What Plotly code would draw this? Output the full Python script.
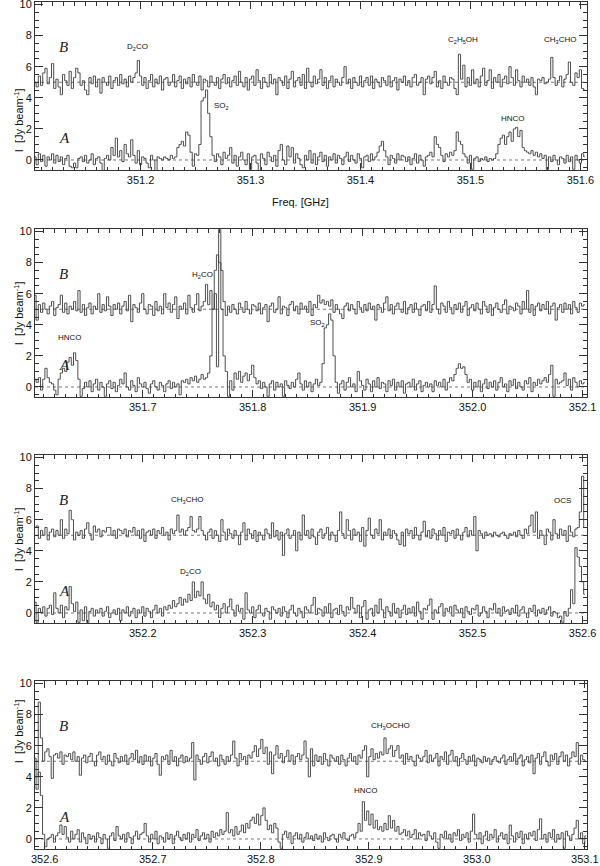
import numpy as np
import plotly.graph_objects as go

W, H = 600, 866

# ---------------- data (intensities in units of 0.1 Jy/beam) ----------------
# start frequency of each panel [GHz] and channel width [GHz]
f_start = [351.104, 351.602, 352.102, 352.591]
chan_width = 0.002
B_OFFSET = 5.0  # spectrum B is displayed shifted up by 5 Jy/beam

# Panel 1 : 351.10 - 351.61 GHz
a1 = [2, -3, 4, -1, 3, -4, 2, 0, 4, -2,
      3, -1, 2, -3, 1, 3, -4, -5, -2, -5,
      1, 2, -1, 3, -2, 0, 4, -3, 1, 2,
      -2, -7, 1, 3, 0, 8, 3, 14, 2, 6,
      -1, 10, 4, 2, 13, 3, -2, 6, -3, 2,
      1, -2, -5, 3, 0, -7, 2, 1, 0, 2,
      1, 0, 3, 1, 2, 8, 10, 12, 9, 18,
      16, 5, -4, 4, 3, 10, 38, 40, 45, 30,
      15, 3, -1, 4, 2, -3, 5, 1, 3, 8,
      -2, 3, -4, 2, 5, 0, -3, 4, -6, 2,
      3, -2, -7, 4, 1, -3, 5, 2, -1, 3,
      -4, 6, 10, 0, -3, 9, 2, 8, -2, 4,
      1, -3, -5, 3, 0, 6, -2, 4, -3, 2,
      5, -1, 3, -4, 2, 0, 4, -2, 3, 1,
      -3, 2, 5, -1, 3, 0, -2, 4, 1, -5,
      2, 3, -1, 4, 0, 2, 5, 9, 12, 6,
      2, -3, 3, 1, -2, 4, 0, 3, 2, -1,
      2, -3, 1, 4, -2, 3, 0, -4, 2, 3,
      5, 2, 15, 10, 8, 3, -1, 4, 2, 5,
      3, 6, 18, 12, 10, 4, 2, -2, 3, -6,
      1, 2, -1, 1, 0, 2, -1, 1, 0, 1,
      4, 10, 14, 16, 10, 15, 18, 12, 20, 21,
      15, 19, 8, 6, 5, 4, 6, 3, 5, 2,
      4, 1, 3, -6, 2, -1, 3, 0, -3, 2,
      1, -2, 3, -1, 2, -6, 3, 0, -2, 4,
      2]
b1 = [0, -3, 4, -2, 6, 9, -1, 3, 12, -4,
      2, -3, -8, 5, 1, -2, 7, -4, 3, 9,
      6, -2, 1, -5, -8, 3, -1, 4, -3, 2,
      -7, 3, 0, -2, 4, -4, 1, 3, -2, 5,
      -1, 2, -3, 4, 0, 3, 6, 14, 4, -2,
      3, -4, 1, 5, -3, 2, -1, 4, -5, 2,
      3, -2, 0, 5, -3, 1, 4, -4, 2, -1,
      3, -3, 5, 0, -2, 4, -5, 2, 1, -3,
      4, 0, -2, 3, -4, 2, 5, -1, 3, -3,
      1, 4, -2, 7, 0, -3, 3, -5, 2, 4,
      -2, 8, 1, -4, 3, 0, -3, 5, -1, 2,
      -8, 3, 1, -2, 4, -4, 2, 7, -3, 1,
      3, -2, 5, -4, 9, 0, -3, 4, -1, 2,
      8, -2, 3, -4, 1, 4, -3, 2, 0, -2,
      3, 10, -1, 2, -4, 3, 0, -2, 4, -3,
      1, 3, -2, 4, -4, 2, 0, -3, 3, 1,
      -2, 4, -3, 1, 3, -5, 2, 0, 4, -2,
      1, -3, 3, 5, -2, 0, 3, -8, 2, 4,
      -1, 3, 7, -3, 1, -4, 4, 0, -2, 3,
      2, -4, -8, 18, 2, 11, -3, 3, -2, 8,
      -1, 2, -3, 4, 9, -2, 1, 8, -4, 3,
      0, 5, -3, 2, 4, -1, 10, 3, -2, 8,
      1, -3, 4, 0, 2, -2, 3, -3, -8, 2,
      1, 3, -1, 0, 2, 16, 3, -2, 1, 4,
      -3, 2, 5, 13, 0, -2, 6, 3, 8, -4,
      -5]

# Panel 2 : 351.60 - 352.10 GHz
a2 = [5, 3, 6, -2, 5, 12, 6, 3, 2, -2,
      -5, 5, 9, 12, 10, 16, 19, 14, 22, 17,
      5, -6, -1, 3, 0, 4, -3, 2, 5, -2,
      3, 0, -6, 2, 4, -1, 3, -3, 1, 5,
      2, 9, 0, -2, 4, 1, -3, 6, 2, 0,
      3, -1, -4, 2, 4, 0, -2, 3, 1, -3,
      2, 4, -1, 3, 0, 2, -5, 4, 3, 5,
      2, 6, 4, 7, 3, 5, 8, 5, 6, 9,
      20, 50, 75, 85, 80, 50, 20, 10, -6, 4,
      -2, 9, 5, 10, 3, 7, 9, 4, 8, 14,
      6, 2, 4, -1, 3, 0, -6, 2, 4, -2,
      3, 0, 2, -6, 4, 1, -1, 3, 0, 5,
      9, 2, -2, 4, 0, 3, -3, 2, 5, 1,
      3, 15, 38, 40, 47, 43, 20, 3, -4, 2,
      4, -2, 3, 6, 0, 2, -3, 10, 4, 1,
      -2, 5, 2, -3, 4, 0, 6, -1, 3, 2,
      -3, 4, 1, 5, -2, 3, 0, 4, -4, 2,
      3, 0, 5, -2, 2, 4, -3, 1, 3, 0,
      2, -3, 4, 1, 3, 0, 5, -2, 3, 6,
      4, 8, 12, 15, 12, 13, 8, 3, 5, -2,
      3, 0, 4, -3, 2, 5, -1, 3, 0, 4,
      -2, 3, 6, 0, 2, -3, 4, 1, 5, -1,
      3, 0, -2, 4, 2, 6, -3, 3, 1, 5,
      2, 4, 6, 3, 8, 14, -6, 5, 2, 3,
      4, 9, 1, 5, -2, 6, 3, 0, 4, 2,
      3]
b2 = [9, -7, 3, -2, 4, 0, -3, 2, 5, -4,
      1, 3, 9, -2, 4, -3, 2, 0, 5, -1,
      12, -2, 3, -4, 1, 4, -3, 2, 0, 10,
      -2, 3, -1, 8, 2, -4, 3, 0, 4, -3,
      2, 5, -1, 9, -8, 3, 1, -2, 4, 10,
      0, -3, 3, 2, -4, 5, -1, 2, -3, 10,
      1, 4, -2, 3, 8, -6, 2, 0, 4, -3,
      9, 1, -2, 3, 10, -1, 2, 5, 16, 3,
      12, 0, 10, -37, 52, 25, 5, -4, 2, -2,
      3, 0, -3, 4, 1, -2, 5, 0, -3, 3,
      2, -1, 4, -3, 1, 3, -8, 2, 4, -2,
      0, 8, -3, 2, 1, -4, 3, 5, -1, 2,
      -3, 4, 0, 2, -2, 5, -4, 3, 1, 9,
      4, 6, 3, 5, 2, 6, -2, 3, 0, -3,
      -6, 2, 4, -1, 3, 0, -3, 5, 1, -2,
      3, -1, 4, 0, 2, -7, 3, 1, -2, 4,
      8, -1, 3, -3, 2, 4, 0, -2, 5, -3,
      1, 3, -2, 4, 0, -4, 2, 3, -1, 5,
      -2, 3, 15, 0, -3, 4, 2, -2, 5, 1,
      -3, 3, 0, 4, -2, 2, 5, -4, 1, 3,
      -1, 4, 0, -3, 5, 2, -2, 3, -4, 1,
      4, 0, -2, 3, 6, -3, 2, 1, -1, 4,
      2, -3, 5, 0, 12, -2, 3, -4, 2, 4,
      -1, 3, 0, 5, -3, 2, 4, -7, 1, 3,
      -2, 4, 0, 3, -3, 5, 1, -2, 4, 2,
      3]

# Panel 3 : 352.10 - 352.60 GHz
a3 = [7, -6, 3, 0, 4, -2, 3, 5, -1, 13,
      3, 0, 5, -3, 4, 2, 17, 6, 1, 7,
      -6, 2, -5, 4, -6, 1, 3, -2, 2, 0,
      3, -2, 1, 4, -3, 0, 2, -1, 3, -5,
      2, 0, 4, -2, 1, 3, -3, 2, 0, 4,
      -2, 3, 1, -3, 2, 5, 0, 3, -2, 4,
      2, 5, 3, 8, 4, 6, 10, 5, 9, 7,
      12, 8, 20, 10, 14, 11, 20, 9, 6, 12,
      4, 7, 2, 5, -3, 3, 6, 0, 4, 9,
      2, -2, 5, 1, 3, -4, 13, 2, 0, 4,
      -3, 2, 5, 0, -2, 3, 1, -4, 4, 2,
      0, 3, -2, 4, 1, -3, 2, 5, 0, -2,
      3, 1, -3, 4, 2, 0, 5, 10, -1, 3,
      2, -2, 4, 0, 6, -3, 2, 3, -1, 5,
      1, -2, 4, 2, 10, 3, 0, 5, -3, 4,
      8, -4, 2, 3, -2, 5, 0, 9, 2, -3,
      4, 1, -2, 6, 0, 3, -3, 2, 5, -1,
      3, 0, 4, -2, 7, 1, -4, 3, 2, 5,
      9, -4, 2, 0, 4, 6, -2, 3, 1, 4,
      -2, 5, 2, 0, 3, -3, 4, 1, -1, 3,
      2, 5, -2, 0, 4, 1, -3, 3, 2, 6,
      0, 3, -2, 4, 1, 2, -1, 3, 0, 5,
      -2, 2, 4, 0, -3, 3, 1, 5, -2, 2,
      0, 3, -1, 2, 4, -2, 1, 0, -3, -2,
      -6, 1, -2, 3, 15, 6, 42, 36, 30, 20,
      12]
b3 = [5, 6, -2, 3, 0, 5, -3, 2, 4, -1,
      3, 0, 10, -2, 4, 1, 16, 10, -3, 2,
      0, 3, -2, 4, 8, 1, -3, 6, 2, 4,
      -1, 3, 2, 5, 5, 0, 3, -2, 4, 3,
      1, 4, -1, 3, 2, 5, 0, 3, -2, 4,
      -4, 2, 3, 0, 4, -2, 3, 1, 5, 0,
      2, -3, 4, 1, 3, 13, 2, 4, 0, 3,
      5, 12, 3, 2, 4, 12, 3, 0, -3, 2,
      4, -2, 3, 0, -4, 10, 2, -3, 4, 1,
      -2, 3, 0, -6, 2, 8, -3, 4, 1, -2,
      3, -4, 2, 0, -3, 4, 1, -2, 8, -1,
      3, -3, 2, -13, 1, 4, -2, 0, 3, -10,
      2, -3, 13, 0, 3, -2, 4, -1, -6, 2,
      4, -2, 1, 5, -3, 2, 0, -4, 3, 15,
      1, -2, 10, 3, -3, 4, 0, 2, -4, 5,
      -7, 3, 11, 0, -2, 4, 1, 10, -3, 2,
      0, 4, -2, 3, 1, -3, -6, 2, -7, 4,
      1, 3, -2, 5, 0, -3, 2, 9, -1, 3,
      -2, 4, 1, -3, 3, 0, 5, -4, 2, 1,
      3, -2, 4, 0, -3, 2, 5, -1, 3, 0,
      12, -10, 3, 1, -2, 2, 0, 1, -1, 2,
      0, -1, 1, 2, 0, -2, 1, 0, 2, -1,
      3, 0, -2, 4, 1, 6, 13, 2, 15, -2,
      3, 0, -6, 4, 2, -3, 10, 1, -2, 4,
      0, 3, -4, 6, 2, -1, 4, 5, 15, 38,
      5]

# Panel 4 : 352.59 - 353.10 GHz
a4 = [40, 32, 43, 28, 3, -5, 0, 1, 3, -2,
      2, 4, 9, 3, 8, 1, -2, 5, 0, 3,
      6, -2, 4, 1, -3, 3, 0, 2, -2, 4,
      1, -3, 3, 0, -6, 2, 4, -1, 8, 2,
      0, 3, -2, 4, 1, -3, 2, 5, 0, 3,
      4, 10, 2, -2, 3, 0, 5, -3, 2, 1,
      -2, 4, 0, 3, -3, 2, 5, 1, -1, 3,
      0, 4, -2, 3, 1, 6, -1, 2, 4, 0,
      3, -2, 5, 1, 4, 2, 6, 3, 5, 17,
      4, 6, 2, 8, 3, 5, 9, 4, 10, 7,
      12, 14, 10, 16, 9, 15, 20, 12, 6, 9,
      4, 10, 7, -2, -6, 3, 5, 1, 4, -3,
      2, 4, 0, 3, -2, 1, 4, 0, 2, -1,
      3, 0, 2, -2, 4, 1, -1, 2, 3, 0,
      -2, 3, 1, 4, 0, -1, 2, 3, 1, 4,
      10, 5, 24, 12, 18, 9, 16, 7, 12, 6,
      8, 5, 10, 6, 15, 7, 12, 5, 8, 3,
      4, 6, 2, 5, 1, 3, 6, 0, 4, 2,
      3, -1, 5, 2, 0, 4, -2, -6, 3, 1,
      5, 0, 3, -2, 4, 2, 6, -1, 3, 1,
      4, -2, 5, 16, 3, 0, 4, -3, 2, 5,
      -1, 3, 1, 6, -2, 2, 4, 0, 3, -3,
      9, 2, -2, 4, 1, 5, -3, 3, 0, 4,
      2, 5, -1, 6, 13, 0, 3, -2, 4, 1,
      6, -2, 3, 0, 4, -6, 5, 2, -1, 3,
      7, 12, 0, 4, -3, 2]
b4 = [2, -10, 38, 15, 0, 6, 8, 3, -11, 4,
      5, 2, 6, -2, 4, 3, 5, 1, 6, 0,
      3, -9, 2, 4, -1, 3, 5, 0, -3, 4,
      6, 1, 3, -2, 4, 0, -3, 5, 2, -1,
      3, 0, 4, -2, 2, 5, 1, 7, -1, 3,
      -2, 4, 0, 3, -3, 2, 5, -2, -9, 3,
      1, 4, -2, 7, 0, 3, -3, 2, 4, -1,
      3, 0, 2, 12, -12, 4, 1, -2, 3, 5,
      -1, 3, 6, 0, 2, -3, 4, 1, -2, 3,
      0, 4, 13, 2, -3, 5, 1, 3, -2, 4,
      2, 6, 10, 3, 8, 14, 5, 9, -2, 6,
      -8, 4, 10, 2, 5, -1, 3, 7, 0, 4,
      -2, 3, 5, 1, 4, 13, 2, -10, 8, -3,
      4, 0, 3, -2, 5, 1, -3, 4, 2, 0,
      3, -2, 4, 1, -3, 2, 5, 0, 3, -2,
      4, 2, 7, 10, -10, 3, 8, 1, 5, 2,
      6, 4, 15, 5, 8, 10, 3, 7, 10, 2,
      4, -2, 5, 1, 3, 0, -3, 4, 2, 0,
      3, 7, -1, 4, 0, 2, 5, -3, 3, 1,
      6, -2, 4, 7, 0, 3, -3, 2, 5, 1,
      -2, 3, 0, 4, -3, 2, 1, -1, 3, 0,
      2, -2, 1, 3, 0, -1, 2, 4, -2, 1,
      3, 0, 5, -2, 2, 4, -3, 1, 3, -1,
      4, -8, 2, 5, -2, 3, 6, 0, -3, 4,
      1, 5, -2, 3, 6, 0, 4, -3, 2, 6,
      3, 12, -2, 4, 1, 0]

a_spectra = [a1, a2, a3, a4]
b_spectra = [b1, b2, b3, b4]

x_ranges = [[351.104, 351.606], [351.602, 352.104], [352.102, 352.604], [352.591, 353.102]]

# line labels: (panel, text, freq, intensity)
line_labels = [
    (0, "D<sub>2</sub>CO", 351.1976, 7.25),
    (0, "SO<sub>2</sub>", 351.274, 3.5),
    (0, "C<sub>2</sub>H<sub>5</sub>OH", 351.493, 7.7),
    (0, "CH<sub>3</sub>CHO", 351.581, 7.7),
    (0, "HNCO", 351.539, 2.7),
    (1, "H<sub>2</sub>CO", 351.754, 7.2),
    (1, "HNCO", 351.634, 3.2),
    (1, "SO<sub>2</sub>", 351.859, 4.1),
    (2, "CH<sub>3</sub>CHO", 352.240, 7.25),
    (2, "D<sub>2</sub>CO", 352.243, 2.65),
    (2, "OCS", 352.582, 7.25),
    (3, "CH<sub>3</sub>OCHO", 352.920, 7.25),
    (3, "HNCO", 352.897, 3.15),
]

# ---------------- layout geometry ----------------
Y_RANGE = [-0.65, 10.15]
px_per_unit = 15.55
zero_px = [160, 387, 613, 839]
x_left_px, x_right_px = 35, 587

LINE_COL = "#3a3a3a"
AX_COL = "#333333"
FONT = "Liberation Sans"

fig = go.Figure()
for k in range(4):
    xa = "x" if k == 0 else f"x{k+1}"
    ya = "y" if k == 0 else f"y{k+1}"
    n_a = len(a_spectra[k])
    n_b = len(b_spectra[k])
    fa = f_start[k] + chan_width * np.arange(n_a)
    fb = f_start[k] + chan_width * np.arange(n_b)
    fig.add_trace(go.Scatter(x=fb, y=B_OFFSET + np.array(b_spectra[k]) / 10.0,
                             mode="lines", line=dict(color=LINE_COL, width=0.9, shape="hvh"),
                             xaxis=xa, yaxis=ya, showlegend=False, hoverinfo="skip"))
    fig.add_trace(go.Scatter(x=fa, y=np.array(a_spectra[k]) / 10.0,
                             mode="lines", line=dict(color=LINE_COL, width=0.9, shape="hvh"),
                             xaxis=xa, yaxis=ya, showlegend=False, hoverinfo="skip"))

layout = dict(width=W, height=H, margin=dict(l=0, r=0, t=0, b=0, autoexpand=False),
              paper_bgcolor="white", plot_bgcolor="white", showlegend=False)
shapes = []
annotations = []
for k in range(4):
    xs = "" if k == 0 else str(k + 1)
    top = zero_px[k] - Y_RANGE[1] * px_per_unit
    bot = zero_px[k] - Y_RANGE[0] * px_per_unit
    ydom = [1 - bot / H, 1 - top / H]
    layout["xaxis" + xs] = dict(
        domain=[x_left_px / W, x_right_px / W], anchor="y" + xs, range=x_ranges[k],
        dtick=0.1, tick0=351.0, tickformat=".1f", ticks="inside", ticklen=7,
        tickcolor=AX_COL, showline=True, linecolor=AX_COL, linewidth=1, mirror="ticks",
        showgrid=False, zeroline=False, automargin=False, ticklabeloverflow="allow",
        tickfont=dict(family=FONT, size=11, color="#111"),
        minor=dict(dtick=0.01, tick0=351.0, ticks="inside", ticklen=3.5, tickcolor=AX_COL, showgrid=False))
    layout["yaxis" + xs] = dict(
        domain=ydom, anchor="x" + xs, range=Y_RANGE, tickvals=[0, 2, 4, 6, 8, 10],
        ticks="inside", ticklen=8, tickcolor=AX_COL, showline=True, linecolor=AX_COL,
        linewidth=1, mirror="ticks", showgrid=False, zeroline=False, automargin=False,
        ticklabeloverflow="allow",
        tickfont=dict(family=FONT, size=11, color="#111"),
        minor=dict(dtick=0.5, ticks="inside", ticklen=4, tickcolor=AX_COL, showgrid=False))
    for lvl in (0.0, B_OFFSET):
        shapes.append(dict(type="line", xref=f"x{xs} domain", yref="y" + xs, x0=0, x1=1,
                           y0=lvl, y1=lvl, line=dict(color="#777", width=1, dash="dot"), layer="below"))
    # A / B labels
    annotations.append(dict(xref=f"x{xs} domain", yref="y" + xs, x=0.04, y=7.25, text="<i>B</i>",
                            showarrow=False, font=dict(family="Liberation Serif", size=15, color="#222")))
    annotations.append(dict(xref=f"x{xs} domain", yref="y" + xs, x=0.04, y=1.4, text="<i>A</i>",
                            showarrow=False, font=dict(family="Liberation Serif", size=15, color="#222")))
    # y axis title
    annotations.append(dict(xref="paper", yref="paper", x=10 / W, y=(ydom[0] + ydom[1]) / 2,
                            text="I  [Jy beam<sup>-1</sup>]", textangle=-90, showarrow=False,
                            font=dict(family=FONT, size=11, color="#111")))

for (k, txt, f, yv) in line_labels:
    xs = "" if k == 0 else str(k + 1)
    annotations.append(dict(xref="x" + xs, yref="y" + xs, x=f, y=yv, text=txt, showarrow=False,
                            font=dict(family=FONT, size=8, color="#111")))

annotations.append(dict(xref="paper", yref="paper", x=300 / W, y=1 - 194 / H, text="Freq. [GHz]",
                        showarrow=False, font=dict(family=FONT, size=11, color="#111")))

layout["shapes"] = shapes
layout["annotations"] = annotations
fig.update_layout(**layout)
# remove the default page margin so the figure sits at the window's top-left corner
fig.write_html("out.html", config={"displayModeBar": False},
               post_script="document.body.style.margin='0';")
